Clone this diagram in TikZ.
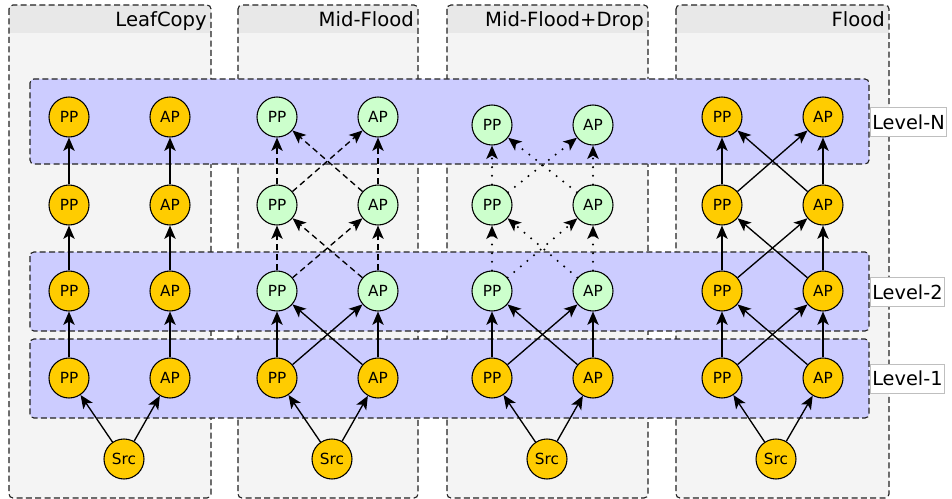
\documentclass[tikz,border=0pt]{standalone}
\usepackage{fontspec}
\setmainfont{DejaVu Sans}
\usetikzlibrary{arrows.meta}
\definecolor{gold}{HTML}{FFCC00}
\definecolor{grn}{HTML}{CCFFCC}
\definecolor{bandc}{HTML}{CCCCFF}
\definecolor{colbody}{HTML}{F4F4F4}
\definecolor{colhead}{HTML}{E8E8E8}
\definecolor{edgegray}{HTML}{222222}
\tikzset{
  colbox/.style={draw=edgegray, line width=0.85pt, dash pattern=on 4.5pt off 2.5pt, rounded corners=3pt},
  bandbox/.style={draw=edgegray, fill=bandc, line width=0.85pt, dash pattern=on 4.5pt off 2.5pt, rounded corners=3pt},
  lvl/.style={draw=black!25, fill=white, font=\fontsize{14.5}{16}\selectfont, inner xsep=1.5pt, minimum height=22pt, anchor=west},
  ttl/.style={font=\fontsize{14.7}{16}\selectfont, anchor=base east, inner sep=0pt},
  nd/.style={circle, draw=black, line width=0.8pt, minimum size=30pt, inner sep=0pt, font=\fontsize{11.5}{12}\selectfont},
  arr/.style={-{Stealth[length=10pt,width=8.5pt,inset=2.5pt]}, line width=1pt},
  dsh/.style={arr, dash pattern=on 4.5pt off 3pt},
  dtt/.style={arr, line width=1.7pt, dash pattern=on 0pt off 6.5pt, line cap=round}
}
\begin{document}
\begin{tikzpicture}[x=0.75pt, y=-0.75pt]
\useasboundingbox (0,0) rectangle (952,499);
% column boxes
\foreach \cn/\xa/\xb/\tt in {c1/9/211/LeafCopy, c2/238/418/Mid-Flood, c3/447/648/Mid-Flood+Drop, c4/676/889/Flood}{
  \fill[colbody, rounded corners=3pt] (\xa,5) rectangle (\xb,498);
  \begin{scope}
    \clip[rounded corners=3pt] (\xa,5) rectangle (\xb,498);
    \fill[colhead] (\xa,5) rectangle (\xb,33);
  \end{scope}
  \draw[colbox] (\xa,5) rectangle (\xb,498);
  \node[ttl] (\cn-title) at (\xb-4,26.5) {\tt};
}
% level bands
\draw[bandbox] (30,79) rectangle (869,164);
\draw[bandbox] (30,252) rectangle (869,331);
\draw[bandbox] (30,339) rectangle (869,418);
\node[lvl] (lvN) at (870,122) {Level-N};
\node[lvl] (lv2) at (870,292) {Level-2};
\node[lvl] (lv1) at (870,378.5) {Level-1};
% nodes
\foreach \i/\p/\a/\s/\ny/\up in {1/69/170/124/117/gold, 2/277/378/332/117/grn, 3/492/593/547/125/grn, 4/722/823/776/117/gold}{
  \node[nd, fill=gold] (c\i-src) at (\s,459) {Src};
  \node[nd, fill=gold] (c\i-pp1) at (\p,378) {PP};
  \node[nd, fill=gold] (c\i-ap1) at (\a,378) {AP};
  \node[nd, fill=\up] (c\i-pp2) at (\p,291) {PP};
  \node[nd, fill=\up] (c\i-ap2) at (\a,291) {AP};
  \node[nd, fill=\up] (c\i-ppm) at (\p,205) {PP};
  \node[nd, fill=\up] (c\i-apm) at (\a,205) {AP};
  \node[nd, fill=\up] (c\i-ppn) at (\p,\ny) {PP};
  \node[nd, fill=\up] (c\i-apn) at (\a,\ny) {AP};
}
% source edges
\foreach \i in {1,2,3,4}{
  \draw[arr] (c\i-src) -- (c\i-pp1);
  \draw[arr] (c\i-src) -- (c\i-ap1);
}
% LeafCopy
\draw[arr] (c1-pp1) -- (c1-pp2);
\draw[arr] (c1-ap1) -- (c1-ap2);
\draw[arr] (c1-pp2) -- (c1-ppm);
\draw[arr] (c1-ap2) -- (c1-apm);
\draw[arr] (c1-ppm) -- (c1-ppn);
\draw[arr] (c1-apm) -- (c1-apn);
% Level-1 to Level-2, columns 2-4
\foreach \i in {2,3,4}{
  \draw[arr] (c\i-pp1) -- (c\i-pp2);
  \draw[arr] (c\i-pp1) -- (c\i-ap2);
  \draw[arr] (c\i-ap1) -- (c\i-pp2);
  \draw[arr] (c\i-ap1) -- (c\i-ap2);
}
% Mid-Flood (dashed), Drop (dotted), Flood (solid)
\foreach \i/\st in {2/dsh, 3/dtt, 4/arr}{
  \draw[\st] (c\i-pp2) -- (c\i-ppm);
  \draw[\st] (c\i-pp2) -- (c\i-apm);
  \draw[\st] (c\i-ap2) -- (c\i-ppm);
  \draw[\st] (c\i-ap2) -- (c\i-apm);
  \draw[\st] (c\i-ppm) -- (c\i-ppn);
  \draw[\st] (c\i-ppm) -- (c\i-apn);
  \draw[\st] (c\i-apm) -- (c\i-ppn);
  \draw[\st] (c\i-apm) -- (c\i-apn);
}
\end{tikzpicture}
\end{document}
